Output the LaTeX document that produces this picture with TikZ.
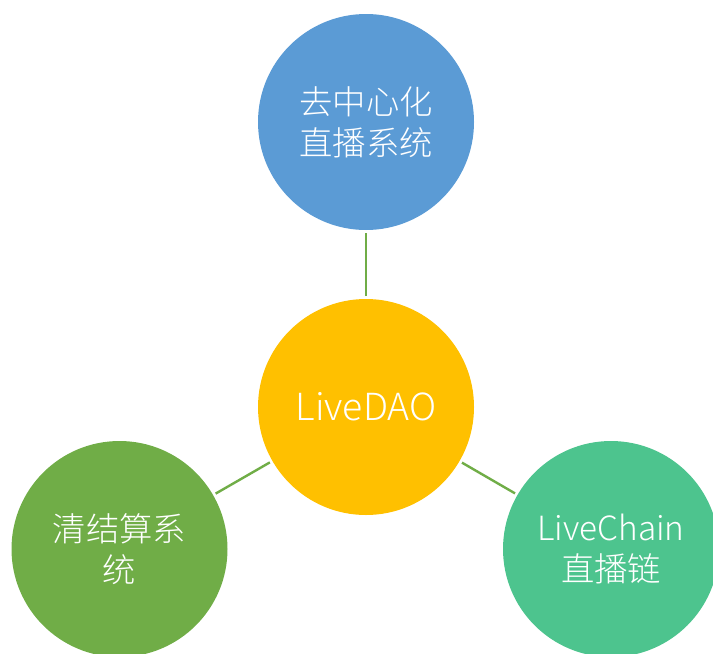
\documentclass[tikz,border=0pt]{standalone}
\usepackage{fontspec}
\setmainfont{Noto Sans CJK SC}[UprightFont=* Light]
\definecolor{cblue}{HTML}{5B9BD5}
\definecolor{cgold}{HTML}{FFC000}
\definecolor{cgreen}{HTML}{70AD47}
\definecolor{cteal}{HTML}{4DC48E}
\begin{document}
\begin{tikzpicture}[x=0.75pt,y=-0.75pt,
  bubble/.style={circle,inner sep=0pt,minimum size=216*0.75pt,text=white,align=center,
    font=\fontsize{25}{31}\selectfont},
  link/.style={draw=cgreen,line width=1.8pt,shorten <=2pt,shorten >=2pt}]
\useasboundingbox (0,0) rectangle (713,653);
\node[bubble,fill=cblue] (top) at (366,122) {去中心化\\直播系统};
\node[bubble,fill=cgold] (mid) at (366,407) {\fontsize{28}{31}\selectfont LiveDAO};
\node[bubble,fill=cgreen] (left) at (119.5,549) {清结算系\\统};
\node[bubble,fill=cteal] (right) at (611,549) {LiveChain\\直播链};
\draw[link] (mid) -- (top);
\draw[link] (mid) -- (left);
\draw[link] (mid) -- (right);
\end{tikzpicture}
\end{document}
